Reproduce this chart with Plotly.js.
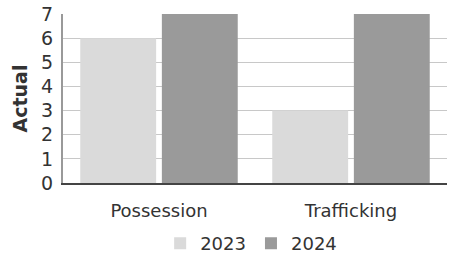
<!DOCTYPE html>
<html>
<head>
<meta charset="utf-8">
<script src="https://cdn.plot.ly/plotly-3.0.1.min.js"></script>
<style>html,body{margin:0;padding:0;background:#fff;}#chart{width:451px;height:255px;}</style>
</head>
<body>
<div id="chart"></div>
<script>
const categories = ["Possession", "Trafficking"];
const series2023 = [6, 3];
const series2024 = [7, 7];
const seriesNames = ["2023", "2024"];
const yTicks = [0, 1, 2, 3, 4, 5, 6, 7];

const data = [
  {type: "bar", name: seriesNames[0], x: categories, y: series2023,
   marker: {color: "#dadada"}},
  {type: "bar", name: seriesNames[1], x: categories, y: series2024,
   marker: {color: "#9a9a9a"}}
];

const layout = {
  width: 451, height: 255,
  margin: {l: 63, r: 4, t: 14, b: 72, autoexpand: false},
  paper_bgcolor: "#ffffff", plot_bgcolor: "#ffffff",
  font: {family: "DejaVu Sans, sans-serif", color: "#333333", size: 18},
  barmode: "group", bargap: 0.15, bargroupgap: 0.07,
  showlegend: true,
  legend: {orientation: "h", x: 0.49, xanchor: "center", yref: "container", y: 0.045, yanchor: "middle",
           font: {size: 18, color: "#333333"}, itemwidth: 30, tracegroupgap: 0},
  xaxis: {type: "category", showgrid: false, ticks: "", tickfont: {size: 18, color: "#333333"},
          ticklabelstandoff: 10,
          showline: true, linecolor: "#444444", linewidth: 2, zeroline: false},
  yaxis: {range: [0, 7], tickvals: yTicks, ticktext: yTicks.map(String),
          tickfont: {size: 19, color: "#333333"}, showgrid: true, gridcolor: "#c8c8c8", gridwidth: 1,
          showline: true, linecolor: "#999999", linewidth: 2, mirror: false, zeroline: false, ticklen: 0,
          ticklabelstandoff: 4,
          title: {text: "<b>Actual</b>", font: {size: 19, color: "#333333"}, standoff: 8}}
};

Plotly.newPlot("chart", data, layout, {displayModeBar: false, staticPlot: true});
</script>
</body>
</html>
